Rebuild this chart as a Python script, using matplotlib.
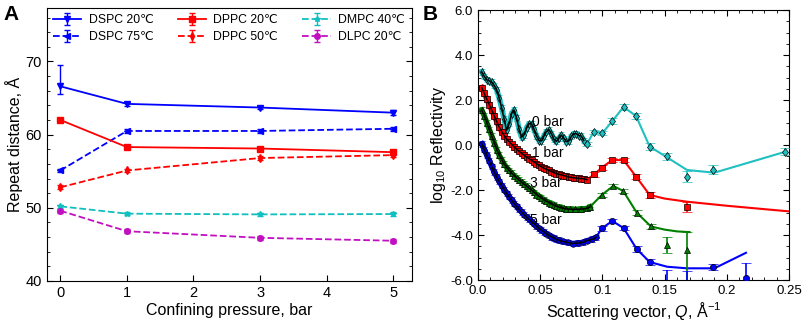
import numpy as np
import matplotlib
matplotlib.use('Agg')
import matplotlib.pyplot as plt
from matplotlib.ticker import MultipleLocator

plt.rcParams['font.family'] = ['Liberation Sans', 'DejaVu Sans']
plt.rcParams['axes.unicode_minus'] = False
plt.rcParams['mathtext.fontset'] = 'custom'
plt.rcParams['mathtext.it'] = 'Liberation Sans:italic'
plt.rcParams['mathtext.rm'] = 'Liberation Sans'

# ---- panel A: repeat distance vs confining pressure ----
pressure = [0, 1, 3, 5]
dspc20 = [66.6, 64.2, 63.7, 63.0]
dspc20_err_lo = [1.1, 0.3, 0.2, 0.3]
dspc20_err_hi = [2.9, 0.3, 0.2, 0.3]
dspc75 = [55.1, 60.5, 60.5, 60.8]
dppc20 = [62.0, 58.3, 58.1, 57.6]
dppc50 = [52.8, 55.1, 56.8, 57.2]
dmpc40 = [50.2, 49.2, 49.1, 49.15]
dlpc20 = [49.6, 46.8, 45.9, 45.5]
small_err = [0.25, 0.25, 0.25, 0.3]

# ---- panel B: reflectivity curves ----
# 0 bar (cyan)
q0 = [0.003, 0.005, 0.007, 0.009, 0.011, 0.013, 0.015, 0.017, 0.019, 0.021,
      0.023, 0.025, 0.027, 0.029, 0.031, 0.033, 0.035, 0.037, 0.039, 0.041,
      0.043, 0.045, 0.047, 0.049, 0.051, 0.053, 0.055, 0.057, 0.059, 0.061,
      0.063, 0.065, 0.067, 0.069, 0.071, 0.073, 0.075, 0.077, 0.079, 0.081,
      0.083, 0.085]
r0 = [3.25, 3.05, 2.9, 2.85, 2.8, 2.65, 2.45, 2.1, 1.65, 1.15,
      0.65, 0.95, 1.4, 1.55, 1.2, 0.7, 0.35, 0.45, 0.75, 0.95,
      0.95, 0.7, 0.4, 0.2, 0.18, 0.4, 0.6, 0.68, 0.5, 0.25,
      0.16, 0.3, 0.44, 0.3, 0.15, 0.18, 0.38, 0.5, 0.5, 0.42,
      0.4, 0.2]
q0_pts = [0.0875, 0.093, 0.100, 0.108, 0.117, 0.127, 0.138, 0.152, 0.168, 0.189, 0.247]
r0_pts = [0.04, 0.58, 0.53, 1.07, 1.69, 1.29, -0.07, -0.50, -1.41, -1.11, -0.30]
e0_pts = [0.1, 0.1, 0.1, 0.12, 0.12, 0.12, 0.15, 0.15, 0.25, 0.2, 0.15]
q0_line = [0.085, 0.0875, 0.093, 0.100, 0.108, 0.117, 0.127, 0.138, 0.152, 0.168, 0.19, 0.247]
r0_line = [0.2, 0.04, 0.58, 0.53, 1.07, 1.69, 1.29, -0.07, -0.55, -1.11, -1.23, -0.30]

# 1 bar (red)
q1 = [0.003, 0.005, 0.007, 0.009, 0.011, 0.013, 0.015, 0.017, 0.019, 0.021,
      0.023, 0.025, 0.027, 0.029, 0.031, 0.033, 0.035, 0.037, 0.039, 0.041,
      0.043, 0.045, 0.047, 0.049, 0.051, 0.053, 0.055, 0.057, 0.059, 0.061,
      0.063, 0.065, 0.067, 0.069, 0.071, 0.073, 0.075, 0.077, 0.079, 0.081,
      0.083, 0.085, 0.0875]
r1 = [2.55, 2.3, 2.05, 1.8, 1.55, 1.3, 1.05, 0.8, 0.6, 0.42,
      0.27, 0.15, 0.03, -0.08, -0.18, -0.28, -0.37, -0.45, -0.53, -0.6,
      -0.68, -0.75, -0.83, -0.9, -0.97, -1.03, -1.08, -1.13, -1.18, -1.23,
      -1.27, -1.3, -1.33, -1.36, -1.39, -1.42, -1.44, -1.46, -1.47, -1.48,
      -1.49, -1.5, -1.54]
q1_pts = [0.0935, 0.0995, 0.108, 0.117, 0.127, 0.138, 0.168]
r1_pts = [-1.3, -1.0, -0.67, -0.67, -1.40, -2.22, -2.75]
e1_pts = [0.1, 0.1, 0.1, 0.1, 0.12, 0.15, 0.22]
q1_line = [0.0875, 0.0935, 0.0995, 0.108, 0.117, 0.127, 0.138, 0.15, 0.168, 0.2, 0.25]
r1_line = [-1.54, -1.3, -1.0, -0.67, -0.67, -1.40, -2.22, -2.38, -2.52, -2.7, -2.95]

# 3 bar (green)
q3 = [0.003, 0.005, 0.007, 0.009, 0.011, 0.013, 0.015, 0.017, 0.019, 0.021,
      0.023, 0.025, 0.027, 0.029, 0.031, 0.033, 0.035, 0.037, 0.039, 0.041,
      0.043, 0.045, 0.047, 0.049, 0.051, 0.053, 0.055, 0.057, 0.059, 0.061,
      0.063, 0.065, 0.067, 0.069, 0.071, 0.074, 0.078, 0.083, 0.0875, 0.09]
r3 = [1.55, 1.3, 1.0, 0.7, 0.4, 0.1, -0.2, -0.45, -0.65, -0.85,
      -1.0, -1.13, -1.25, -1.36, -1.46, -1.56, -1.65, -1.74, -1.83, -1.92,
      -2.0, -2.1, -2.2, -2.28, -2.36, -2.43, -2.5, -2.56, -2.62, -2.67,
      -2.72, -2.76, -2.79, -2.82, -2.84, -2.85, -2.86, -2.85, -2.82, -2.75]
q3_pts = [0.0995, 0.1087, 0.1167, 0.1275, 0.139, 0.152, 0.168]
r3_pts = [-2.22, -1.82, -2.04, -3.0, -3.62, -4.44, -4.67]
e3_lo = [0.1, 0.1, 0.1, 0.1, 0.12, 0.35, 2.0]
e3_hi = [0.1, 0.1, 0.1, 0.1, 0.12, 0.35, 0.8]
q3_line = [0.09, 0.0995, 0.1087, 0.1167, 0.1275, 0.139, 0.15, 0.16, 0.17]
r3_line = [-2.75, -2.22, -1.82, -2.04, -3.0, -3.62, -3.76, -3.84, -3.87]

# 5 bar (blue)
q5 = [0.003, 0.005, 0.007, 0.009, 0.011, 0.013, 0.015, 0.017, 0.019, 0.021,
      0.023, 0.025, 0.027, 0.029, 0.031, 0.033, 0.035, 0.037, 0.039, 0.041,
      0.043, 0.045, 0.047, 0.049, 0.051, 0.053, 0.055, 0.057, 0.059, 0.061,
      0.063, 0.065, 0.068, 0.072, 0.076, 0.080, 0.084, 0.088, 0.092, 0.095]
r5 = [0.05, -0.2, -0.45, -0.7, -0.95, -1.2, -1.42, -1.62, -1.8, -1.98,
      -2.15, -2.3, -2.45, -2.6, -2.73, -2.86, -2.98, -3.1, -3.2, -3.3,
      -3.4, -3.5, -3.6, -3.7, -3.78, -3.86, -3.94, -4.01, -4.08, -4.14,
      -4.19, -4.23, -4.28, -4.33, -4.38, -4.36, -4.33, -4.25, -4.18, -4.1]
q5_pts = [0.0995, 0.108, 0.117, 0.1275, 0.138, 0.152, 0.168, 0.189, 0.2154]
r5_pts = [-3.7, -3.38, -3.69, -4.62, -5.2, -6.3, -6.3, -5.42, -5.91]
e5_lo = [0.1, 0.1, 0.1, 0.12, 0.12, 0.75, 0.7, 0.15, 0.3]
e5_hi = [0.1, 0.1, 0.1, 0.12, 0.12, 0.75, 0.7, 0.15, 0.67]
q5_line = [0.095, 0.0995, 0.108, 0.117, 0.1275, 0.138, 0.152, 0.168, 0.19, 0.2154]
r5_line = [-4.1, -3.7, -3.38, -3.69, -4.62, -5.2, -5.41, -5.48, -5.48, -4.79]

fig = plt.figure(figsize=(8.03, 3.28), dpi=100)
axA = fig.add_axes([0.0585, 0.1433, 0.4545, 0.8323])
axB = fig.add_axes([0.5953, 0.1463, 0.3873, 0.8232])

# panel A
kw = dict(lw=1.3, ms=4, capsize=2.5, elinewidth=1.0)
axA.errorbar(pressure, dspc20, yerr=[dspc20_err_lo, dspc20_err_hi], color='#0000ff',
             marker='v', ls='-', label='DSPC 20℃', **kw)
axA.errorbar(pressure, dspc75, yerr=small_err, color='#0000ff', marker='<', ls='--',
             label='DSPC 75℃', **kw)
axA.errorbar(pressure, dppc20, yerr=small_err, color='#ff0000', marker='s', ls='-',
             label='DPPC 20℃', **kw)
axA.errorbar(pressure, dppc50, yerr=small_err, color='#ff0000', marker='d', ls='--',
             label='DPPC 50℃', **kw)
axA.errorbar(pressure, dmpc40, yerr=small_err, color='#10bfbf', marker='*', ls='--',
             label='DMPC 40℃', **kw)
axA.errorbar(pressure, dlpc20, yerr=small_err, color='#c010c0', marker='o', ls='--',
             label='DLPC 20℃', **kw)
axA.set_xlim(-0.2, 5.28)
axA.set_ylim(40, 77.3)
axA.set_xticks([0, 1, 2, 3, 4, 5])
axA.set_yticks([40, 50, 60, 70])
axA.yaxis.set_minor_locator(MultipleLocator(2))
axA.tick_params(which='both', direction='in', right=True, labelsize=10.5)
axA.tick_params(which='major', length=4)
axA.tick_params(which='minor', length=2.5)
axA.set_xlabel('Confining pressure, bar', fontsize=11.5, labelpad=2)
axA.set_ylabel('Repeat distance, Å', fontsize=11.5, labelpad=2)
axA.legend(ncol=3, loc='upper left', frameon=False, fontsize=8.8, handlelength=2.3,
           columnspacing=2.0, handletextpad=0.6, borderaxespad=0.3, labelspacing=0.4,
           borderpad=0.2)
fig.text(0.004, 0.985, 'A', fontsize=15, fontweight='bold', va='top', ha='left')

# panel B
series = [
    (q0, r0, q0_pts, r0_pts, [e0_pts, e0_pts], q0_line, r0_line, '#20c0c0', 'd'),
    (q1, r1, q1_pts, r1_pts, [e1_pts, e1_pts], q1_line, r1_line, '#ff0000', 's'),
    (q3, r3, q3_pts, r3_pts, [e3_lo, e3_hi], q3_line, r3_line, '#008000', '^'),
    (q5, r5, q5_pts, r5_pts, [e5_lo, e5_hi], q5_line, r5_line, '#0000ff', 'o'),
]
for q, r, qp, rp, ep, ql, rl, col, mk in series:
    axB.plot(ql, rl, color=col, lw=1.5, zorder=2)
    axB.errorbar(q, r, yerr=0.12, fmt=mk, color=col, mec='black', mew=0.5, ms=4,
                 ecolor=col, elinewidth=0.8, capsize=2.5, zorder=3)
    axB.errorbar(qp, rp, yerr=ep, fmt=mk, color=col, mec='black', mew=0.5, ms=4.5,
                 ecolor=col, elinewidth=1.2, capsize=3.5, zorder=3)
    axB.plot(q, r, color=col, lw=4, zorder=2.5)
    axB.plot(q, r, color='black', lw=1.1, zorder=4)

axB.text(0.043, 1.02, '0 bar', fontsize=10, va='center', ha='left', zorder=5)
axB.text(0.043, -0.36, '1 bar', fontsize=10, va='center', ha='left', zorder=5)
axB.text(0.042, -1.69, '3 bar', fontsize=10, va='center', ha='left', zorder=5)
axB.text(0.042, -3.33, '5 bar', fontsize=10, va='center', ha='left', zorder=5)

axB.set_xlim(0, 0.25)
axB.set_ylim(-6, 6)
axB.set_xticks([0, 0.05, 0.1, 0.15, 0.2, 0.25])
axB.set_xticklabels(['0.0', '0.05', '0.1', '0.15', '0.2', '0.25'])
axB.set_yticks([-6, -4, -2, 0, 2, 4, 6])
axB.set_yticklabels(['-6.0', '-4.0', '-2.0', '0.0', '2.0', '4.0', '6.0'])
axB.xaxis.set_minor_locator(MultipleLocator(0.01))
axB.yaxis.set_minor_locator(MultipleLocator(0.5))
axB.tick_params(which='both', direction='in', top=True, right=True, labelsize=9.5)
axB.tick_params(which='major', length=4)
axB.tick_params(which='minor', length=2.5)
axB.set_xlabel('Scattering vector, $Q$, Å$^{-1}$', fontsize=11.5, labelpad=2)
axB.set_ylabel('log$_{10}$ Reflectivity', fontsize=11.5, labelpad=2)
fig.text(0.526, 0.985, 'B', fontsize=15, fontweight='bold', va='top', ha='left')

fig.savefig('out.png', dpi=100)
